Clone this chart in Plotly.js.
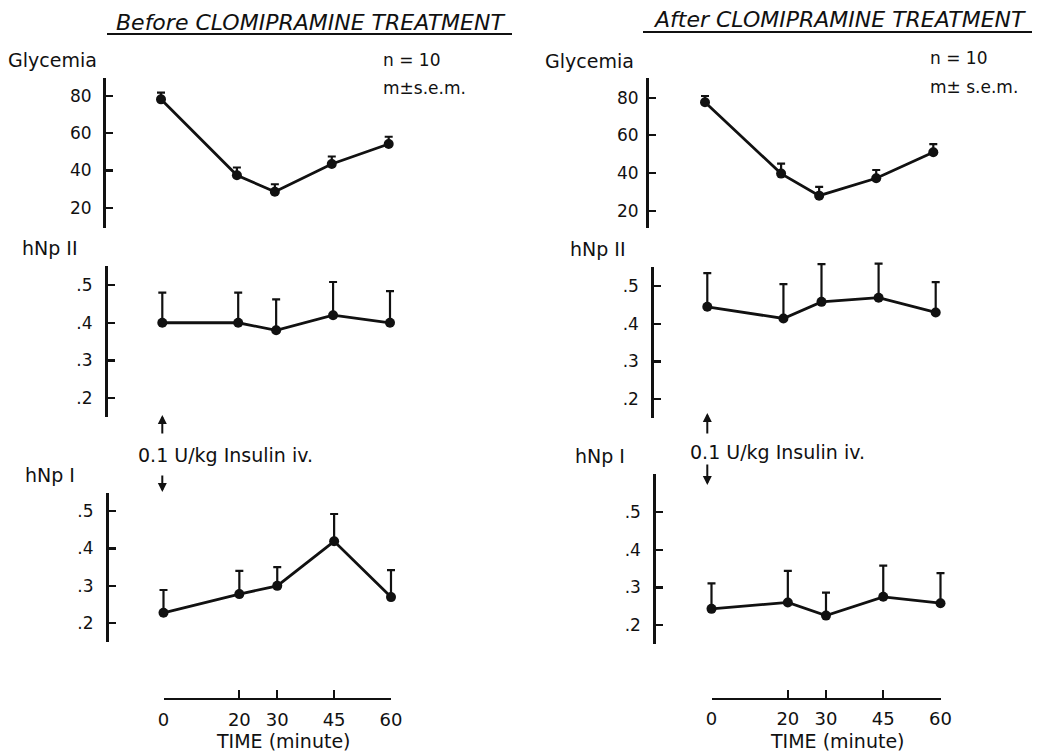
<!DOCTYPE html>
<html>
<head>
<meta charset="utf-8">
<script src="https://cdn.plot.ly/plotly-3.0.1.min.js"></script>
<style>html,body{margin:0;padding:0;background:#fff;}#chart{width:1037px;height:751px;}</style>
</head>
<body>
<div id="chart"></div>
<script>
// ---------------- DATA ----------------
const times = [0, 20, 30, 45, 60];
const timeTickText = ['0', '20', '30', '45', '60'];

const glyBefore = [78.2, 37.4, 28.6, 43.5, 54.2];
const glyBeforeSem = [3.6, 4.2, 4.0, 4.0, 3.9];
const glyAfter = [77.6, 39.7, 28.0, 37.2, 51.0];
const glyAfterSem = [3.3, 5.3, 4.7, 4.4, 4.4];

const hnp2Before = [0.40, 0.40, 0.38, 0.42, 0.40];
const hnp2BeforeSem = [0.08, 0.08, 0.082, 0.088, 0.084];
const hnp2After = [0.445, 0.414, 0.458, 0.469, 0.43];
const hnp2AfterSem = [0.089, 0.091, 0.10, 0.09, 0.08];

const hnp1Before = [0.228, 0.278, 0.30, 0.419, 0.27];
const hnp1BeforeSem = [0.061, 0.062, 0.05, 0.073, 0.072];
const hnp1After = [0.243, 0.26, 0.225, 0.275, 0.258];
const hnp1AfterSem = [0.068, 0.084, 0.061, 0.083, 0.08];

const glyTicks = [20, 40, 60, 80];
const glyTickText = ['20', '40', '60', '80'];
const hnpTicks = [0.2, 0.3, 0.4, 0.5];
const hnpTickText = ['.2', '.3', '.4', '.5'];

// ---------------- LAYOUT GEOMETRY (pixels) ----------------
const W = 1037, H = 751;
const fx = p => p / W;
const fy = p => 1 - p / H;
const FONT = 'DejaVu Sans';
const INK = '#111';

const panels = [
  {y: glyBefore, e: glyBeforeSem, x0: 161, x60: 388.7, ax: 104, top: 78, bot: 228, lo: [20, 207.7], hi: [80, 96], tv: glyTicks, tt: glyTickText, stand: 8},
  {y: hnp2Before, e: hnp2BeforeSem, x0: 162.3, x60: 390, ax: 106, top: 266, bot: 416.7, lo: [0.2, 398.3], hi: [0.5, 285], tv: hnpTicks, tt: hnpTickText, stand: 9},
  {y: hnp1Before, e: hnp1BeforeSem, x0: 163.5, x60: 391, ax: 107, top: 492.7, bot: 641.7, lo: [0.2, 623.3], hi: [0.5, 511], tv: hnpTicks, tt: hnpTickText, stand: 9, bottomAxis: 699},
  {y: glyAfter, e: glyAfterSem, x0: 705, x60: 933.3, ax: 647, top: 78, bot: 228, lo: [20, 210.7], hi: [80, 97.7], tv: glyTicks, tt: glyTickText, stand: 4},
  {y: hnp2After, e: hnp2AfterSem, x0: 707.3, x60: 935.7, ax: 652.3, top: 266.7, bot: 418.3, lo: [0.2, 399.3], hi: [0.5, 286], tv: hnpTicks, tt: hnpTickText, stand: 9},
  {y: hnp1After, e: hnp1AfterSem, x0: 711.5, x60: 940.5, ax: 654.3, top: 474, bot: 644, lo: [0.2, 625], hi: [0.5, 512.3], tv: hnpTicks, tt: hnpTickText, stand: 9, bottomAxis: 698.5}
];

const traces = [];
const layout = {
  width: W, height: H,
  margin: {l: 0, r: 0, t: 0, b: 0},
  paper_bgcolor: '#fff', plot_bgcolor: 'rgba(0,0,0,0)',
  showlegend: false,
  font: {family: FONT, color: INK},
  annotations: [], shapes: []
};
const sfx = n => (n === 1 ? '' : String(n));
const XPAD = 8; // minutes of invisible padding around data subplots

let bottomCount = 0;
panels.forEach((p, i) => {
  const n = i + 1;          // data axes
  const m = 7 + i;          // display y axis
  const ppu = (p.lo[1] - p.hi[1]) / (p.hi[0] - p.lo[0]); // px per unit
  const rTop = p.hi[0] + (p.hi[1] - p.top) / ppu;
  const rBot = p.lo[0] - (p.bot - p.lo[1]) / ppu;
  const pxPerMin = (p.x60 - p.x0) / 60;
  const ypadPx = 30;
  layout['xaxis' + sfx(n)] = {
    domain: [fx(p.x0 - XPAD * pxPerMin), fx(p.x60 + XPAD * pxPerMin)], range: [-XPAD, 60 + XPAD],
    anchor: 'y' + sfx(n), visible: false, fixedrange: true
  };
  layout['yaxis' + sfx(n)] = {
    domain: [fy(p.bot + ypadPx), fy(p.top - ypadPx)],
    range: [rBot - ypadPx / ppu, rTop + ypadPx / ppu],
    anchor: 'x' + sfx(n), visible: false, fixedrange: true
  };
  traces.push({
    type: 'scatter', mode: 'lines+markers', x: times, y: p.y,
    xaxis: 'x' + sfx(n), yaxis: 'y' + sfx(n), cliponaxis: false,
    line: {color: INK, width: 2.8},
    marker: {color: INK, size: 10},
    error_y: {type: 'data', symmetric: false, array: p.e, arrayminus: p.e.map(() => 0),
      color: INK, thickness: 2.2, width: 4},
    hoverinfo: 'skip'
  });
  layout['yaxis' + m] = {
    domain: [fy(p.bot), fy(p.top)], range: [rBot, rTop],
    anchor: 'free', position: fx(p.ax),
    showgrid: false, zeroline: false, fixedrange: true,
    showline: true, linecolor: INK, linewidth: 2.6,
    ticks: 'inside', ticklen: 7, tickwidth: 2.2, tickcolor: INK,
    tickmode: 'array', tickvals: p.tv, ticktext: p.tt,
    tickfont: {family: FONT, size: 17, color: INK}, ticklabelstandoff: p.stand
  };
  let dispX = 'x' + sfx(n);
  if (p.bottomAxis) {
    const k = 13 + bottomCount++;
    layout['xaxis' + k] = {
      domain: [fx(p.x0), fx(p.x60)], range: [0, 60],
      anchor: 'free', position: fy(p.bottomAxis),
      showgrid: false, zeroline: false, fixedrange: true,
      showline: true, linecolor: INK, linewidth: 2.2,
      ticks: 'inside', ticklen: 8, tickwidth: 2.2, tickcolor: INK,
      tickmode: 'array', tickvals: times, ticktext: timeTickText,
      tickfont: {family: FONT, size: 18, color: INK}, ticklabelstandoff: 4
    };
    dispX = 'x' + k;
  }
  traces.push({type: 'scatter', mode: 'markers', x: [], y: [], xaxis: dispX, yaxis: 'y' + m, hoverinfo: 'skip'});
});

function txt(text, x, y, size, opts) {
  layout.annotations.push(Object.assign({
    text: text, x: fx(x), y: fy(y), xref: 'paper', yref: 'paper',
    xanchor: 'left', yanchor: 'middle', showarrow: false,
    font: {family: FONT, size: size, color: INK}
  }, opts || {}));
}
txt('Before CLOMIPRAMINE TREATMENT', 310, 22, 22, {xanchor: 'center', font: {family: FONT, size: 22, color: INK, style: 'italic'}});
txt('After CLOMIPRAMINE TREATMENT', 839, 20, 22, {xanchor: 'center', font: {family: FONT, size: 22, color: INK, style: 'italic'}});
layout.shapes.push({type: 'line', xref: 'paper', yref: 'paper', x0: fx(107), x1: fx(512), y0: fy(34), y1: fy(34), line: {color: INK, width: 2}});
layout.shapes.push({type: 'line', xref: 'paper', yref: 'paper', x0: fx(643), x1: fx(1032), y0: fy(32), y1: fy(32), line: {color: INK, width: 2}});
txt('Glycemia', 6, 60, 19);
txt('Glycemia', 543, 61, 19);
txt('n = 10', 381, 60, 17);
txt('m±s.e.m.', 381, 88, 17);
txt('n = 10', 928, 58, 17);
txt('m± s.e.m.', 928, 87, 17);
txt('hNp II', 20, 248, 19);
txt('hNp II', 568, 249, 19);
txt('hNp I', 23, 475, 19);
txt('hNp I', 573, 456, 19);
txt('0.1 U/kg Insulin iv.', 136, 455, 19);
txt('0.1 U/kg Insulin iv.', 688, 452, 19);
txt('TIME (minute)', 282.5, 741, 19, {xanchor: 'center'});
txt('TIME (minute)', 837, 741, 19, {xanchor: 'center'});
function arrow(xref, headY, tailY) {
  layout.annotations.push({
    text: '', x: 0, xref: xref, y: fy(headY), yref: 'paper',
    showarrow: true, ax: 0, ay: tailY - headY, arrowhead: 2, arrowsize: 0.9,
    arrowwidth: 2, arrowcolor: INK, standoff: 0, startstandoff: 0
  });
}
arrow('x2', 415, 435);
arrow('x2', 492, 474);
arrow('x5', 413, 435);
arrow('x5', 485, 463);

Plotly.newPlot('chart', traces, layout, {staticPlot: true, displayModeBar: false});
</script>
</body>
</html>
